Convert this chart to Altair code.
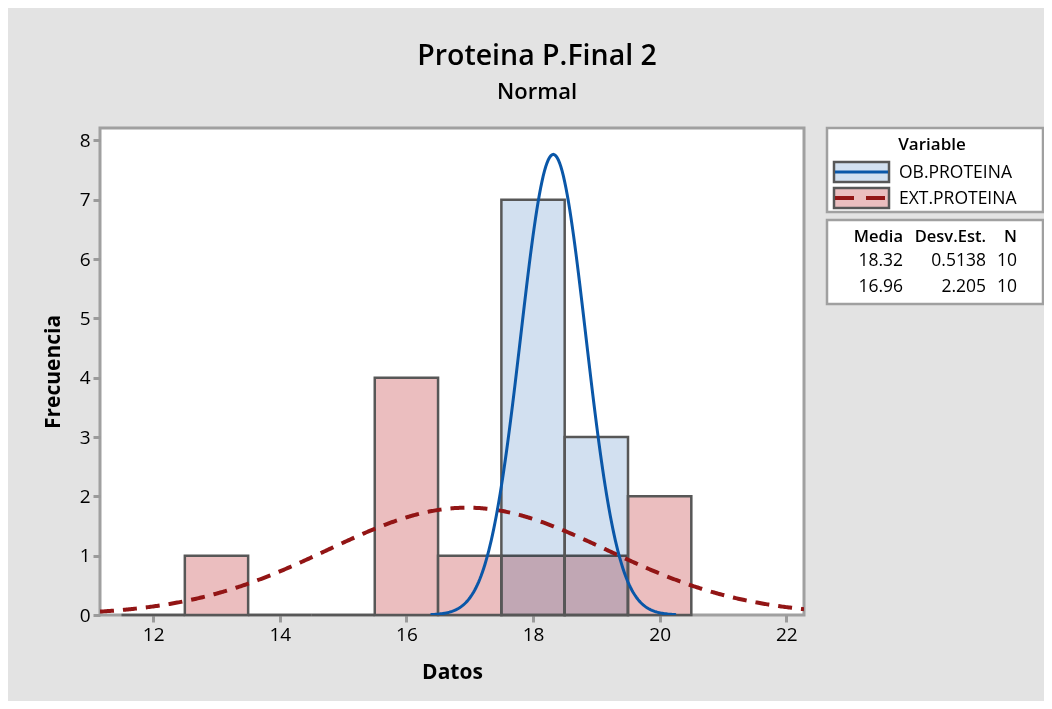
import altair as alt
import pandas as pd

# ---- data ----
series = ["OB.PROTEINA", "EXT.PROTEINA"]
means = [18.32, 16.96]
sds = [0.5138, 2.205]
ns = [10, 10]
bin_width = 1.0

ext_bin_starts = [11.5, 12.5, 13.5, 14.5, 15.5, 16.5, 17.5, 18.5, 19.5]
ext_counts = [0, 1, 0, 0, 4, 1, 1, 1, 2]
ob_bin_starts = [17.5, 18.5]
ob_counts = [7, 3]

x_ticks = [12, 14, 16, 18, 20, 22]
y_ticks = [0, 1, 2, 3, 4, 5, 6, 7, 8]
x_domain = [11.16, 22.28]
y_domain = [0, 8.21]

FONT = "Open Sans"
OB_FILL = "#D2E0F0"
EXT_FILL = "#EBBEBF"
OB_LINE = "#0A57A8"
EXT_LINE = "#921515"
EDGE = "#575757"
FRAME = "#A0A0A0"

W, H = 704, 487

ext_df = pd.DataFrame({"start": ext_bin_starts, "count": ext_counts})
ext_df["end"] = ext_df["start"] + bin_width
ob_df = pd.DataFrame({"start": ob_bin_starts, "count": ob_counts})
ob_df["end"] = ob_df["start"] + bin_width

xs = alt.Scale(domain=x_domain, nice=False, zero=False)
ys = alt.Scale(domain=y_domain, nice=False, zero=False)

xax = alt.Axis(values=x_ticks, format="d", title="Datos", titleX=352, titleY=57,
               titleBaseline="middle", titleFontSize=21, titleFontWeight="bold")
yax = alt.Axis(values=y_ticks, format="d", title="Frecuencia", titleX=-47, titleY=H / 2,
               titleAngle=-90, titleBaseline="middle", titleFontSize=21,
               titleFontWeight="bold")

ext_bars = alt.Chart(ext_df).mark_rect(
    fill=EXT_FILL, stroke=EDGE, strokeWidth=2.5
).encode(
    x=alt.X("start:Q", scale=xs, axis=xax),
    x2="end:Q",
    y=alt.Y("count:Q", scale=ys, axis=yax),
    y2=alt.datum(0),
)

ob_fill = alt.Chart(ob_df).mark_rect(
    fill=OB_FILL, strokeWidth=0, blend="multiply"
).encode(
    x=alt.X("start:Q", scale=xs),
    x2="end:Q",
    y=alt.Y("count:Q", scale=ys),
    y2=alt.datum(0),
)

ob_edge = alt.Chart(ob_df).mark_rect(
    fillOpacity=0, stroke=EDGE, strokeWidth=2.5
).encode(
    x=alt.X("start:Q", scale=xs),
    x2="end:Q",
    y=alt.Y("count:Q", scale=ys),
    y2=alt.datum(0),
)

def curve(i, color, dash=None, width=3.0, restrict=False):
    expr = f"densityNormal(datum.x, {means[i]}, {sds[i]}) * {ns[i]} * {bin_width}"
    ch = alt.Chart(alt.sequence(x_domain[0], x_domain[1] + 0.001, 0.02, as_="x")).transform_calculate(
        y=expr
    )
    if restrict:
        ch = ch.transform_filter(f"abs(datum.x - {means[i]}) <= {3.8 * sds[i]}")
    kw = dict(color=color, strokeWidth=width, clip=True)
    if dash:
        kw["strokeDash"] = dash
    return ch.mark_line(**kw).encode(
        x=alt.X("x:Q", scale=xs), y=alt.Y("y:Q", scale=ys)
    )

ext_curve = curve(1, EXT_LINE, dash=[14, 9], width=4)
ob_curve = curve(0, OB_LINE, width=3, restrict=True)

# ---- legend boxes (drawn right of the plot) ----
one = pd.DataFrame({"a": [0]})

def box(y0, y1):
    return alt.Chart(one).mark_rect(fill="white", stroke=FRAME, strokeWidth=2.5).encode(
        x=alt.value(727), x2=alt.value(943), y=alt.value(y0), y2=alt.value(y1)
    )

def txt(text, x, y, align="left", weight="normal", size=17.5):
    return alt.Chart(one).mark_text(
        text=text, align=align, baseline="middle", font=FONT,
        fontSize=size, fontWeight=weight, color="black"
    ).encode(x=alt.value(x), y=alt.value(y))

legend_layers = [box(0, 84), box(92, 176), txt("Variable", 832, 17, "center", 600, 17)]
swatches = [(34, 54, OB_FILL, OB_LINE, None), (60, 80, EXT_FILL, EXT_LINE, [19, 12])]
for i, (sy0, sy1, fill, lcol, dash) in enumerate(swatches):
    legend_layers.append(
        alt.Chart(one).mark_rect(fill=fill, stroke=EDGE, strokeWidth=2.5).encode(
            x=alt.value(734), x2=alt.value(789), y=alt.value(sy0), y2=alt.value(sy1)
        )
    )
    kw = dict(color=lcol, strokeWidth=3 if dash is None else 4)
    if dash:
        kw["strokeDash"] = dash
    legend_layers.append(
        alt.Chart(one).mark_rule(**kw).encode(
            x=alt.value(735), x2=alt.value(788), y=alt.value((sy0 + sy1) / 2)
        )
    )
    legend_layers.append(txt(series[i], 799, (sy0 + sy1) / 2 + 0.5))

cols_x = [803, 886, 917]
legend_layers += [
    txt("Media", cols_x[0], 109, "right", 600, 16.5),
    txt("Desv.Est.", cols_x[1], 109, "right", 600, 16.5),
    txt("N", cols_x[2], 109, "right", 600, 16.5),
]
row_y = [133, 159]
for i in range(2):
    legend_layers += [
        txt(f"{means[i]:.2f}", cols_x[0], row_y[i], "right"),
        txt(f"{sds[i]:.4g}", cols_x[1], row_y[i], "right"),
        txt(f"{ns[i]}", cols_x[2], row_y[i], "right"),
    ]

chart = alt.layer(ext_bars, ob_fill, ob_edge, ext_curve, ob_curve, *legend_layers).properties(
    width=W, height=H,
    title=alt.TitleParams(
        text="Proteina P.Final 2", subtitle="Normal", anchor="middle", dx=85,
        fontSize=28.5, fontWeight=600, font=FONT, color="black",
        subtitleFontSize=22, subtitleFontWeight=600, subtitleFont=FONT,
        subtitleColor="black", subtitlePadding=11, offset=24,
    ),
    autosize=alt.AutoSizeParams(type="none"),
    padding={"left": 92, "top": 120, "right": 240, "bottom": 86},
).configure(
    background="#E3E3E3", font=FONT
).configure_view(
    fill="white", stroke=FRAME, strokeWidth=3
).configure_axis(
    domain=False, grid=False, labelFont=FONT, labelFontSize=19, labelColor="black",
    tickColor="#9B9B9B", tickWidth=3, tickSize=7, labelPadding=3,
    titleFont=FONT, titleColor="black"
)

chart.save("out.html", embed_options={"renderer": "svg", "actions": False})
